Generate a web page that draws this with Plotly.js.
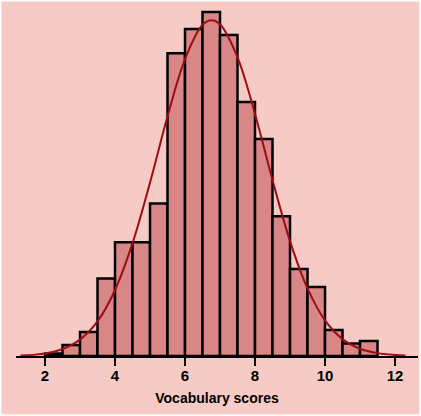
<!DOCTYPE html>
<html>
<head>
<meta charset="utf-8">
<script src="https://cdn.plot.ly/plotly-3.0.1.min.js"></script>
<style>html,body{margin:0;padding:0;background:#ffffff;}#chart{width:421px;height:416px;}</style>
</head>
<body>
<div id="chart"></div>
<script>
// Histogram bins (left edges, width 0.5) and heights (percent of students)
const binStarts = [2.0, 2.5, 3.0, 3.5, 4.0, 4.5, 5.0, 5.5, 6.0, 6.5, 7.0, 7.5, 8.0, 8.5, 9.0, 9.5, 10.0, 10.5, 11.0];
const binHeights = [0.10, 0.42, 0.92, 2.98, 4.38, 4.38, 5.87, 11.65, 12.58, 13.23, 12.35, 9.77, 8.35, 5.38, 3.35, 2.65, 1.00, 0.48, 0.58];
const binWidth = 0.5;

// Normal curve points
const curveX = [1.3, 2.0, 2.5, 3.0, 3.5, 4.0, 4.5, 5.0, 5.5, 6.0, 6.5, 6.76, 7.0, 7.5, 8.0, 8.5, 9.0, 9.5, 10.0, 10.5, 11.0, 11.5, 12.0, 12.3];
const curveY = [0.02, 0.10, 0.27, 0.63, 1.33, 2.54, 4.34, 6.67, 9.21, 11.42, 12.74, 12.92, 12.76, 11.49, 9.31, 6.77, 4.42, 2.60, 1.37, 0.65, 0.28, 0.11, 0.04, 0.02];

const tickVals = [2, 4, 6, 8, 10, 12];
const tickText = ['2', '4', '6', '8', '10', '12'];
const xTitle = 'Vocabulary scores';

const barCenters = binStarts.map(s => s + binWidth / 2);

const traces = [
  {
    type: 'bar',
    x: barCenters,
    y: binHeights,
    width: binStarts.map(() => binWidth),
    marker: { color: '#d88686', line: { color: '#000000', width: 2.5 } },
    hoverinfo: 'skip'
  },
  {
    type: 'scatter',
    mode: 'lines',
    x: curveX,
    y: curveY,
    line: { color: '#9e0c14', width: 2, shape: 'spline', smoothing: 1 },
    hoverinfo: 'skip'
  }
];

const layout = {
  width: 421,
  height: 416,
  margin: { l: 16, r: 3, t: 10, b: 60 },
  paper_bgcolor: '#f6cbc6',
  plot_bgcolor: '#f6cbc6',
  showlegend: false,
  bargap: 0,
  xaxis: {
    range: [1.171, 12.657],
    tickvals: tickVals,
    ticktext: tickText,
    ticks: 'outside',
    ticklen: 8,
    tickwidth: 2,
    tickcolor: '#000000',
    ticklabelstandoff: -3,
    showline: true,
    linecolor: '#000000',
    linewidth: 2,
    showgrid: false,
    zeroline: false,
    tickfont: { family: 'Liberation Sans, Arial, sans-serif', size: 15, color: '#000000', weight: 'bold' },
    title: { text: xTitle, font: { family: 'Liberation Sans, Arial, sans-serif', size: 14, color: '#000000', weight: 'bold' }, standoff: 10 }
  },
  yaxis: {
    range: [0, 13.31],
    visible: false,
    showgrid: false,
    zeroline: false
  },
  shapes: [
    { type: 'rect', xref: 'paper', yref: 'paper', x0: -0.04, x1: 1.007, y0: -0.173, y1: 1.029,
      line: { color: '#ffffff', width: 3 }, fillcolor: 'rgba(0,0,0,0)', layer: 'above' }
  ]
};

Plotly.newPlot('chart', traces, layout, { displayModeBar: false, staticPlot: true });
</script>
</body>
</html>
